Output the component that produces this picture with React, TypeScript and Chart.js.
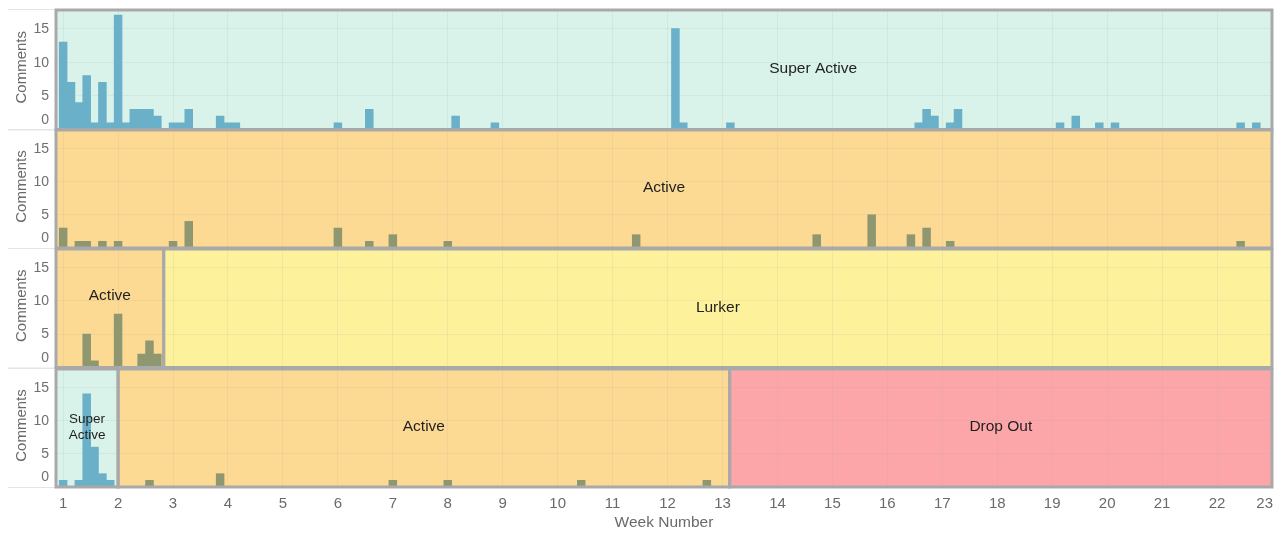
import React, { useEffect, useRef } from "react";
import { Chart, registerables } from "chart.js";

Chart.register(...registerables);

// ---------- axis ticks ----------
const WEEK_TICKS = [1, 2, 3, 4, 5, 6, 7, 8, 9, 10, 11, 12, 13, 14, 15, 16, 17, 18, 19, 20, 21, 22, 23];
const COMMENT_TICKS = [0, 5, 10, 15];
const X_MIN = 0.87;
const X_MAX = 23;
const Y_MAX = 17.75;
const X_TITLE = "Week Number";
const Y_TITLE = "Comments";

// ---------- data: day index (0 = first day of week 1) and comment counts ----------
const P1_DAYS = [0, 1, 2, 3, 4, 5, 6, 7, 8, 9, 10, 11, 12, 14, 15, 16, 20, 21, 22, 35, 39, 50, 55, 78, 79, 85, 109, 110, 111, 113, 114, 127, 129, 132, 134, 150, 152];
const P1_COMMENTS = [13, 7, 4, 8, 1, 7, 1, 17, 1, 3, 3, 3, 2, 1, 1, 3, 2, 1, 1, 1, 3, 2, 1, 15, 1, 1, 1, 3, 2, 1, 3, 1, 2, 1, 1, 1, 1];

const P2_DAYS = [0, 2, 3, 5, 7, 14, 16, 35, 39, 42, 49, 73, 96, 103, 108, 110, 113, 150];
const P2_COMMENTS = [3, 1, 1, 1, 1, 1, 4, 3, 1, 2, 1, 2, 2, 5, 2, 3, 1, 1];

const P3_DAYS = [3, 4, 7, 10, 11, 12];
const P3_COMMENTS = [5, 1, 8, 2, 4, 2];

const P4_DAYS = [0, 2, 3, 4, 5, 6, 11, 20, 42, 49, 66, 82];
const P4_COMMENTS = [1, 1, 14, 6, 2, 1, 1, 2, 1, 1, 1, 1];

// ---------- engagement state segments (in weeks) ----------
const P1_STATES = ["Super Active"];
const P1_FROM = [0.87];
const P1_TO = [28.43];
const P1_LABEL_Y = [9];

const P2_STATES = ["Active"];
const P2_FROM = [0.87];
const P2_TO = [23];
const P2_LABEL_Y = [9];

const P3_STATES = ["Active", "Lurker"];
const P3_FROM = [0.87, 2.83];
const P3_TO = [2.83, 23];
const P3_LABEL_Y = [10.8, 9];

const P4_STATES = ["Super Active", "Active", "Drop Out"];
const P4_FROM = [0.87, 2.0, 13.13];
const P4_TO = [2.0, 13.13, 23];
const P4_LABEL_Y = [9, 9, 9];

const STATE_FILL: Record<string, string> = {
  "Super Active": "#d9f2ea",
  Active: "#fdda93",
  Lurker: "#fdf29b",
  "Drop Out": "#fca6a9",
};
const STATE_BAR: Record<string, string> = {
  "Super Active": "#6ab0c8",
  Active: "#8e9770",
  Lurker: "#8e9770",
  "Drop Out": "#8e9770",
};

type Panel = {
  days: number[];
  comments: number[];
  states: string[];
  from: number[];
  to: number[];
  labelY: number[];
};

const PANELS: Panel[] = [
  { days: P1_DAYS, comments: P1_COMMENTS, states: P1_STATES, from: P1_FROM, to: P1_TO, labelY: P1_LABEL_Y },
  { days: P2_DAYS, comments: P2_COMMENTS, states: P2_STATES, from: P2_FROM, to: P2_TO, labelY: P2_LABEL_Y },
  { days: P3_DAYS, comments: P3_COMMENTS, states: P3_STATES, from: P3_FROM, to: P3_TO, labelY: P3_LABEL_Y },
  { days: P4_DAYS, comments: P4_COMMENTS, states: P4_STATES, from: P4_FROM, to: P4_TO, labelY: P4_LABEL_Y },
];

// ---------- layout ----------
const WIDTH = 1281;
const HEIGHT = 533;
const AREA_LEFT = 56;
const AREA_RIGHT = 1272;
const PANEL_TOP = [10, 130, 249, 369];
const PANEL_BOTTOM = [129.5, 248, 367.5, 487];
const FONT = '"Liberation Sans", Arial, sans-serif';
const GRID = "rgba(165,165,165,0.13)";
const BORDER = "#a9a9a9";

function stateAt(p: Panel, x: number): string {
  for (let i = 0; i < p.states.length; i++) {
    if (x >= p.from[i] && x < p.to[i]) return p.states[i];
  }
  return p.states[p.states.length - 1];
}

function makePlugin(p: Panel, last: boolean) {
  return {
    id: "panelDecor",
    beforeDraw(chart: any) {
      const { ctx, chartArea: a, scales } = chart;
      const xs = scales.x;
      ctx.save();
      ctx.beginPath();
      ctx.rect(a.left, a.top, a.right - a.left, a.bottom - a.top);
      ctx.clip();
      p.states.forEach((s, i) => {
        const x0 = xs.getPixelForValue(p.from[i]);
        const x1 = xs.getPixelForValue(p.to[i]);
        ctx.fillStyle = STATE_FILL[s];
        ctx.fillRect(x0, a.top, x1 - x0, a.bottom - a.top);
      });
      ctx.restore();
    },
    afterDatasetsDraw(chart: any) {
      const { ctx, chartArea: a, scales } = chart;
      const xs = scales.x;
      ctx.save();
      // faint separator lines extending into the axis gutter
      ctx.strokeStyle = "#e4e4e4";
      ctx.lineWidth = 1;
      ctx.beginPath();
      ctx.moveTo(8, a.top - 0.5);
      ctx.lineTo(a.left, a.top - 0.5);
      ctx.moveTo(8, a.bottom + 0.5);
      ctx.lineTo(a.left, a.bottom + 0.5);
      ctx.stroke();
      ctx.strokeStyle = BORDER;
      ctx.lineWidth = 3;
      p.states.forEach((s, i) => {
        const x0 = Math.max(xs.getPixelForValue(p.from[i]), a.left);
        const x1 = Math.min(xs.getPixelForValue(p.to[i]), a.right);
        ctx.strokeRect(x0, a.top, x1 - x0, a.bottom - a.top);
      });
      ctx.restore();
    },
    afterDraw(chart: any) {
      const { ctx, chartArea: a, scales } = chart;
      const xs = scales.x;
      const ys = scales.y;
      ctx.save();
      // state labels
      ctx.fillStyle = "#1f1f1f";
      ctx.textAlign = "center";
      ctx.textBaseline = "middle";
      p.states.forEach((s, i) => {
        const px0 = xs.getPixelForValue(p.from[i]);
        const px1 = xs.getPixelForValue(p.to[i]);
        const cx = (px0 + px1) / 2;
        const cy = ys.getPixelForValue(p.labelY[i]);
        const segW = Math.min(px1, a.right) - Math.max(px0, a.left);
        ctx.font = `15.5px ${FONT}`;
        if (ctx.measureText(s).width > segW - 6) {
          ctx.font = `13.5px ${FONT}`;
          const words = s.split(" ");
          words.forEach((w, k) => {
            ctx.fillText(w, cx, cy + (k - (words.length - 1) / 2) * 15.5);
          });
        } else {
          ctx.fillText(s, cx, cy);
        }
      });
      // y tick labels
      ctx.fillStyle = "#707070";
      ctx.font = `14px ${FONT}`;
      ctx.textAlign = "right";
      ctx.textBaseline = "middle";
      COMMENT_TICKS.forEach((v, k) => {
        const y = ys.getPixelForValue(v) - (k === 0 ? 10 : 0) + 0.5;
        ctx.fillText(String(v), a.left - 7, y);
      });
      // y title
      ctx.save();
      ctx.translate(26, (a.top + a.bottom) / 2 - 2.5);
      ctx.rotate(-Math.PI / 2);
      ctx.font = `15px ${FONT}`;
      ctx.fillStyle = "#6a6a6a";
      ctx.textAlign = "center";
      ctx.textBaseline = "alphabetic";
      ctx.fillText(Y_TITLE, 0, 0);
      ctx.restore();
      if (last) {
        ctx.fillStyle = "#6a6a6a";
        ctx.font = `15px ${FONT}`;
        ctx.textAlign = "center";
        ctx.textBaseline = "middle";
        WEEK_TICKS.forEach((v) => {
          const t = String(v);
          const w = ctx.measureText(t).width;
          let x = xs.getPixelForValue(v);
          if (x + w / 2 > a.right + 1) x = a.right + 1 - w / 2;
          ctx.fillText(t, x, a.bottom + 16.5);
        });
        ctx.font = `15.5px ${FONT}`;
        ctx.fillText(X_TITLE, (a.left + a.right) / 2, a.bottom + 36);
      }
      ctx.restore();
    },
  };
}

function PanelChart({ index }: { index: number }) {
  const ref = useRef<HTMLCanvasElement>(null);
  const p = PANELS[index];
  const last = index === PANELS.length - 1;
  const canvasTop = PANEL_TOP[index] - 10;
  const height = last ? HEIGHT - canvasTop : Math.ceil(PANEL_BOTTOM[index] - canvasTop + 3);
  const padBottom = height - (PANEL_BOTTOM[index] - canvasTop);

  useEffect(() => {
    if (!ref.current) return;
    const chart = new Chart(ref.current, {
      type: "bar",
      data: {
        datasets: [
          {
            data: p.days.map((d, i) => ({ x: 1 + d / 7, y: p.comments[i] })),
            backgroundColor: (c: any) => STATE_BAR[stateAt(p, c.raw ? c.raw.x : 0)],
            borderWidth: 0,
            barPercentage: 1,
            categoryPercentage: 1,
          } as any,
        ],
      },
      options: {
        responsive: false,
        animation: false,
        events: [],
        devicePixelRatio: 1,
        layout: { padding: { top: 10, bottom: padBottom, left: 0, right: WIDTH - AREA_RIGHT } },
        plugins: { legend: { display: false }, tooltip: { enabled: false } },
        scales: {
          x: {
            type: "linear",
            offset: false,
            min: X_MIN,
            max: X_MAX,
            afterBuildTicks: (s: any) => {
              s.ticks = WEEK_TICKS.map((v) => ({ value: v }));
            },
            afterFit: (s: any) => {
              s.height = 0;
            },
            ticks: { display: false },
            grid: { color: GRID, drawTicks: false, lineWidth: 1, offset: false },
            border: { display: false },
          },
          y: {
            type: "linear",
            min: 0,
            max: Y_MAX,
            afterBuildTicks: (s: any) => {
              s.ticks = COMMENT_TICKS.map((v) => ({ value: v }));
            },
            afterFit: (s: any) => {
              s.width = AREA_LEFT;
            },
            ticks: { display: false },
            grid: { color: GRID, drawTicks: false, lineWidth: 1 },
            border: { display: false },
          },
        },
      } as any,
      plugins: [makePlugin(p, last) as any],
    });
    return () => chart.destroy();
  }, []);

  return (
    <canvas
      ref={ref}
      width={WIDTH}
      height={height}
      style={{ position: "absolute", left: 0, top: canvasTop, width: WIDTH, height }}
    />
  );
}

export default function App() {
  return (
    <div style={{ position: "fixed", left: 0, top: 0, width: WIDTH, height: HEIGHT, background: "#ffffff" }}>
      {PANELS.map((_, i) => (
        <PanelChart key={i} index={i} />
      ))}
    </div>
  );
}
